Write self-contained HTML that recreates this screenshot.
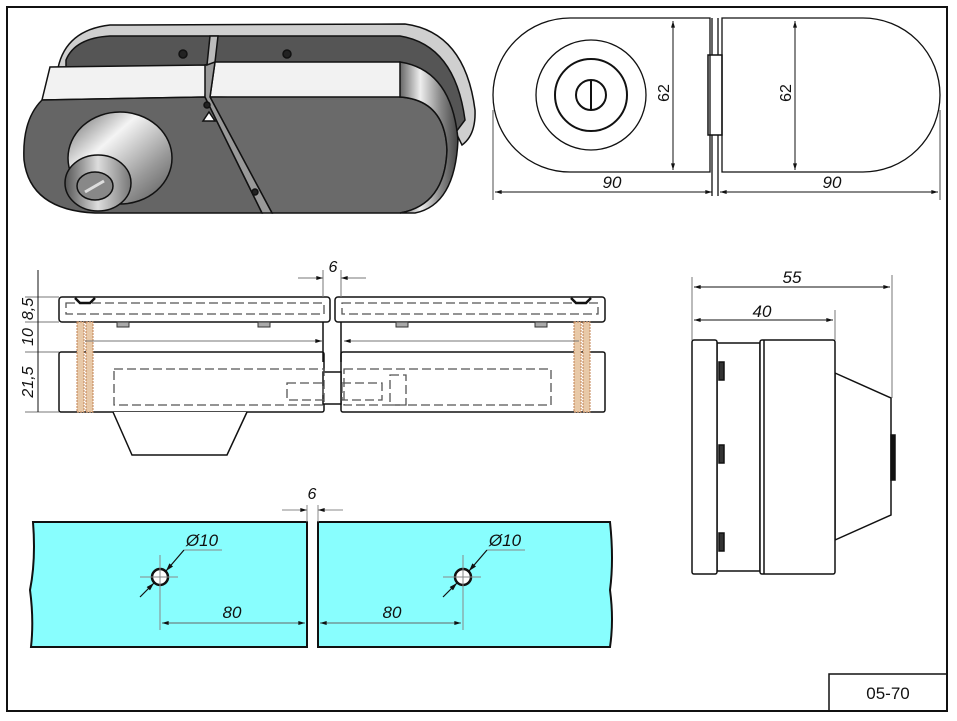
<!DOCTYPE html>
<html><head><meta charset="utf-8"><style>
html,body{margin:0;padding:0;background:#fff}
svg{display:block}
text{font-family:"Liberation Sans",sans-serif;font-style:italic;font-size:16px;fill:#111}
</style></head><body>
<svg width="957" height="721" viewBox="0 0 957 721" xmlns="http://www.w3.org/2000/svg">
<defs>
<linearGradient id="cyl" x1="0" y1="0" x2="1" y2="0">
<stop offset="0" stop-color="#666"/><stop offset="0.35" stop-color="#eee"/><stop offset="0.7" stop-color="#888"/><stop offset="1" stop-color="#444"/></linearGradient>
<linearGradient id="cylL" x1="0" y1="0" x2="1" y2="0">
<stop offset="0" stop-color="#555"/><stop offset="0.5" stop-color="#ddd"/><stop offset="1" stop-color="#777"/></linearGradient>
<linearGradient id="cone" x1="0" y1="0" x2="1" y2="1">
<stop offset="0" stop-color="#666"/><stop offset="0.35" stop-color="#f4f4f4"/><stop offset="0.7" stop-color="#999"/><stop offset="1" stop-color="#555"/></linearGradient>
<marker id="a" viewBox="0 0 10 6" refX="10" refY="3" markerWidth="8" markerHeight="4" orient="auto-start-reverse"><path d="M0,0L10,3L0,6z" fill="#111"/></marker>
</defs>
<rect x="7" y="7" width="940" height="704" fill="none" stroke="#111" stroke-width="2"/>
<rect x="829" y="674" width="118" height="37" fill="none" stroke="#111" stroke-width="1.5"/>
<text x="888" y="699" text-anchor="middle" style="font-style:normal;font-size:17px">05-70</text>

<!-- 3D view -->
<g stroke="#111" stroke-width="1.5">
<path d="M58,68 Q66,30 110,25 L405,24 Q465,32 475,110 Q476,135 462,145 L440,100 L60,100 Z" fill="#cfcfcf"/>
<path d="M66,60 Q75,38 110,36 L400,36 Q455,45 465,120 L450,140 L66,90 Z" fill="#555"/>
<path d="M50,67 L207,65 L205,97 L42,100 Z" fill="#f2f2f2"/>
<path d="M42,100 L205,97 L262,213 L95,213 Q30,210 24,160 Q22,120 42,100 Z" fill="#656565"/>
<path d="M215,62 L400,62 Q432,70 440,100 L210,97 Z" fill="#f2f2f2"/>
<path d="M210,97 L400,97 Q445,100 447,150 Q445,205 400,213 L272,213 Z" fill="#6a6a6a"/>
<path d="M400,62 Q452,70 458,140 Q455,205 415,213 L400,213 Q445,205 447,150 Q445,100 400,97 Z" fill="url(#cyl)"/>
<path d="M205,65 L215,62 L210,97 L272,213 L262,213 L205,97 Z" fill="#999"/>
<path d="M210,36 L218,36 L215,62 L207,65 Z" fill="#bbb"/>
<ellipse cx="120" cy="158" rx="52" ry="46" fill="url(#cone)"/>
<ellipse cx="98" cy="183" rx="33" ry="28" fill="url(#cylL)"/>
<ellipse cx="95" cy="186" rx="18" ry="14" fill="#888"/>
<line x1="85" y1="192" x2="104" y2="181" stroke-width="3" stroke="#ddd"/>
<circle cx="183" cy="54" r="4" fill="#222"/><circle cx="287" cy="54" r="4" fill="#222"/>
<circle cx="207" cy="105" r="3" fill="#222"/><circle cx="255" cy="192" r="3" fill="#222"/>
<path d="M209,112 L215,121 L203,121 Z" fill="#fff"/>
</g>

<!-- top-right plan view -->
<g fill="none" stroke="#111" stroke-width="1.3">
<path d="M710,18 L570,18 A77,77 0 0 0 570,172 L710,172 Z"/>
<path d="M722,18 L863,18 A77,77 0 0 1 863,172 L722,172 Z"/>
<circle cx="591" cy="95" r="55"/><circle cx="591" cy="95" r="36" stroke-width="2"/>
<circle cx="591" cy="95" r="15" stroke-width="2"/>
<line x1="591" y1="80" x2="591" y2="110" stroke-width="2"/>
<rect x="708" y="55" width="14" height="80" stroke-width="1.5"/>
<line x1="712" y1="18" x2="712" y2="55"/><line x1="718" y1="18" x2="718" y2="55"/>
<line x1="712" y1="135" x2="712" y2="196"/><line x1="718" y1="135" x2="718" y2="196"/>
<line x1="493" y1="110" x2="493" y2="200" stroke="#777"/><line x1="940" y1="110" x2="940" y2="200" stroke="#777"/>
<line x1="673" y1="21" x2="673" y2="170" marker-start="url(#a)" marker-end="url(#a)" stroke-width="1"/>
<line x1="795" y1="21" x2="795" y2="170" marker-start="url(#a)" marker-end="url(#a)" stroke-width="1"/>
<line x1="495" y1="192" x2="712" y2="192" marker-start="url(#a)" marker-end="url(#a)" stroke-width="1"/>
<line x1="720" y1="192" x2="938" y2="192" marker-start="url(#a)" marker-end="url(#a)" stroke-width="1"/>
</g>
<text x="612" y="188" text-anchor="middle" style="font-size:17px">90</text>
<text x="832" y="188" text-anchor="middle" style="font-size:17px">90</text>
<text transform="translate(669,93) rotate(-90)" text-anchor="middle" style="font-style:normal">62</text>
<text transform="translate(791,93) rotate(-90)" text-anchor="middle" style="font-style:normal">62</text>

<!-- middle side view -->
<g fill="none" stroke="#111" stroke-width="1.5">
<rect x="59" y="297" width="271" height="25" rx="3"/>
<rect x="335" y="297" width="270" height="25" rx="3"/>
<rect x="59" y="352" width="265" height="60" rx="2"/>
<rect x="341" y="352" width="264" height="60" rx="2"/>
<line x1="323" y1="322" x2="323" y2="362"/><line x1="341" y1="322" x2="341" y2="362"/>
<rect x="323" y="372" width="18" height="32" fill="#fff"/>
<path d="M113,412 L132,455 L227,455 L247,412" fill="#fff"/>
<g stroke="#555" stroke-dasharray="9,4" stroke-width="1.3">
<rect x="66" y="303" width="258" height="11"/><rect x="342" y="303" width="256" height="11"/>
<rect x="114" y="369" width="210" height="36"/><rect x="344" y="369" width="207" height="36"/>
<rect x="287" y="383" width="36" height="17"/><rect x="342" y="383" width="40" height="17"/>
<rect x="390" y="375" width="16" height="30"/>
</g>
<g fill="#aaa" stroke="#333" stroke-width="1">
<rect x="117" y="322" width="12" height="5"/><rect x="258" y="322" width="12" height="5"/>
<rect x="396" y="322" width="12" height="5"/><rect x="535" y="322" width="12" height="5"/>
</g>
<path d="M75,298 L80,303 L90,303 L95,298" stroke-width="2.5"/>
<path d="M571,298 L576,303 L586,303 L591,298" stroke-width="2.5"/>
<g fill="#e8c9a8" stroke="#c08050" stroke-width="1" stroke-dasharray="2,1">
<rect x="77" y="322" width="7" height="90"/><rect x="86" y="322" width="7" height="90"/>
<rect x="574" y="322" width="7" height="90"/><rect x="583" y="322" width="7" height="90"/>
</g>
<g stroke="#777" stroke-width="1">
<line x1="25" y1="297" x2="59" y2="297"/><line x1="25" y1="322" x2="59" y2="322"/>
<line x1="25" y1="352" x2="59" y2="352"/><line x1="25" y1="412" x2="59" y2="412"/>
<line x1="38" y1="270" x2="38" y2="412" stroke="#111"/>
<line x1="85" y1="341" x2="322" y2="341" marker-end="url(#a)"/>
<line x1="344" y1="341" x2="579" y2="341" marker-start="url(#a)"/>
<line x1="298" y1="278" x2="323" y2="278" marker-end="url(#a)"/><line x1="366" y1="278" x2="341" y2="278" marker-end="url(#a)"/>
<line x1="323" y1="270" x2="323" y2="297"/><line x1="341" y1="270" x2="341" y2="297"/>
</g>
</g>
<text x="333" y="272" text-anchor="middle">6</text>
<text transform="translate(33,309) rotate(-90)" text-anchor="middle">8,5</text>
<text transform="translate(33,337) rotate(-90)" text-anchor="middle">10</text>
<text transform="translate(33,382) rotate(-90)" text-anchor="middle">21,5</text>

<!-- right side view -->
<g fill="#fff" stroke="#111" stroke-width="1.5">
<path d="M835,373 L891,398 L891,515 L835,540 Z"/>
<rect x="891" y="435" width="4" height="45" fill="#111"/>
<rect x="717" y="343" width="43" height="228"/>
<rect x="692" y="340" width="25" height="234" rx="2"/>
<rect x="760" y="340" width="75" height="234" rx="2"/>
<line x1="764" y1="340" x2="764" y2="574"/>
<rect x="719" y="362" width="5" height="18" fill="#333"/><rect x="719" y="445" width="5" height="18" fill="#333"/><rect x="719" y="533" width="5" height="18" fill="#333"/>
<g stroke="#777" stroke-width="1">
<line x1="692" y1="277" x2="692" y2="340"/><line x1="892" y1="275" x2="892" y2="398"/><line x1="835" y1="310" x2="835" y2="340"/>
<line x1="694" y1="287" x2="890" y2="287" marker-start="url(#a)" marker-end="url(#a)" stroke="#111"/>
<line x1="694" y1="320" x2="833" y2="320" marker-start="url(#a)" marker-end="url(#a)" stroke="#111"/>
</g>
</g>
<text x="792" y="283" text-anchor="middle" style="font-size:17px">55</text>
<text x="762" y="317" text-anchor="middle" style="font-size:17px">40</text>

<!-- glass -->
<g stroke="#111" stroke-width="2">
<path d="M33,522 L307,522 L307,647 L31,647 Q34,620 30,590 Q36,560 33,522 Z" fill="#88fefe"/>
<path d="M318,522 L610,522 Q614,560 610,590 Q614,620 610,647 L318,647 Z" fill="#88fefe"/>
<circle cx="160" cy="577" r="8" fill="#fff" stroke-width="2.5"/>
<circle cx="463" cy="577" r="8" fill="#fff" stroke-width="2.5"/>
</g>
<g stroke="#888" stroke-width="1" fill="none">
<line x1="160" y1="555" x2="160" y2="630"/><line x1="140" y1="577" x2="178" y2="577"/>
<line x1="463" y1="555" x2="463" y2="630"/><line x1="443" y1="577" x2="481" y2="577"/>
<line x1="184" y1="550" x2="222" y2="550"/><line x1="487" y1="550" x2="525" y2="550"/>
<line x1="162" y1="623" x2="305" y2="623" marker-start="url(#a)" marker-end="url(#a)" stroke="#666"/>
<line x1="320" y1="623" x2="461" y2="623" marker-start="url(#a)" marker-end="url(#a)" stroke="#666"/>
<line x1="307" y1="505" x2="307" y2="522"/><line x1="318" y1="505" x2="318" y2="522"/>
<line x1="282" y1="510" x2="307" y2="510" marker-end="url(#a)"/><line x1="343" y1="510" x2="318" y2="510" marker-end="url(#a)"/>
</g>
<g stroke="#111" stroke-width="1.2">
<line x1="184" y1="550" x2="166" y2="571" marker-end="url(#a)"/><line x1="140" y1="597" x2="154" y2="583" marker-end="url(#a)"/>
<line x1="487" y1="550" x2="469" y2="571" marker-end="url(#a)"/><line x1="443" y1="597" x2="457" y2="583" marker-end="url(#a)"/>
</g>
<text x="202" y="546" text-anchor="middle" style="font-size:17px">Ø10</text>
<text x="505" y="546" text-anchor="middle" style="font-size:17px">Ø10</text>
<text x="232" y="618" text-anchor="middle" style="font-size:17px">80</text>
<text x="392" y="618" text-anchor="middle" style="font-size:17px">80</text>
<text x="312" y="499" text-anchor="middle">6</text>
</svg>
</body></html>
